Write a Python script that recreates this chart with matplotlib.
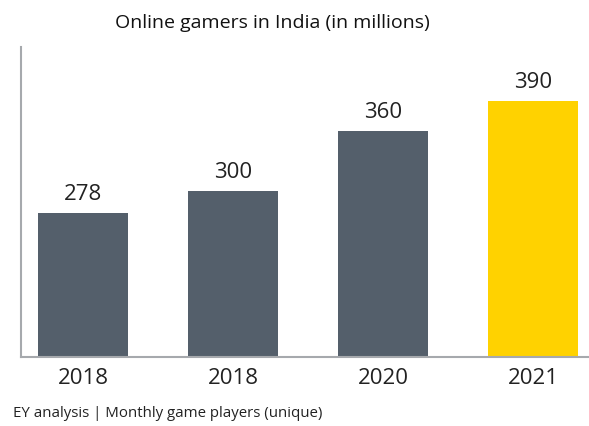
import matplotlib
matplotlib.use("Agg")
import matplotlib.pyplot as plt

years = ["2018", "2018", "2020", "2021"]
gamers = [278, 300, 360, 390]
colors = ["#545f6b", "#545f6b", "#545f6b", "#ffd200"]

plt.rcParams["font.family"] = ["Open Sans", "DejaVu Sans"]

fig = plt.figure(figsize=(5.89, 4.26), dpi=100)
ax = fig.add_axes([0.0357, 0.162, 0.9643, 0.728])

x = range(len(years))
bars = ax.bar(x, gamers, width=0.6, color=colors)
for b, v in zip(bars, gamers):
    ax.annotate(str(v), (b.get_x() + b.get_width() / 2, v), xytext=(0, 6),
                textcoords="offset points", ha="center", va="bottom",
                fontsize=16, color="#222222")

ax.set_xlim(-0.413, 3.373)
ax.set_ylim(134, 444)
ax.set_xticks(list(x))
ax.set_xticklabels(years, fontsize=16, color="#222222")
ax.tick_params(axis="x", length=0, pad=8)
ax.set_yticks([])
for s in ["top", "right"]:
    ax.spines[s].set_visible(False)
for s in ["left", "bottom"]:
    ax.spines[s].set_color("#a6a9ad")
    ax.spines[s].set_linewidth(1.5)

fig.text(0.462, 0.945, "Online gamers in India (in millions)", ha="center",
         va="center", fontsize=14, color="#111111")
fig.text(0.022, 0.03, "EY analysis | Monthly game players (unique)",
         ha="left", va="center", fontsize=10.8, color="#222222")

fig.savefig("out.png", dpi=100)
